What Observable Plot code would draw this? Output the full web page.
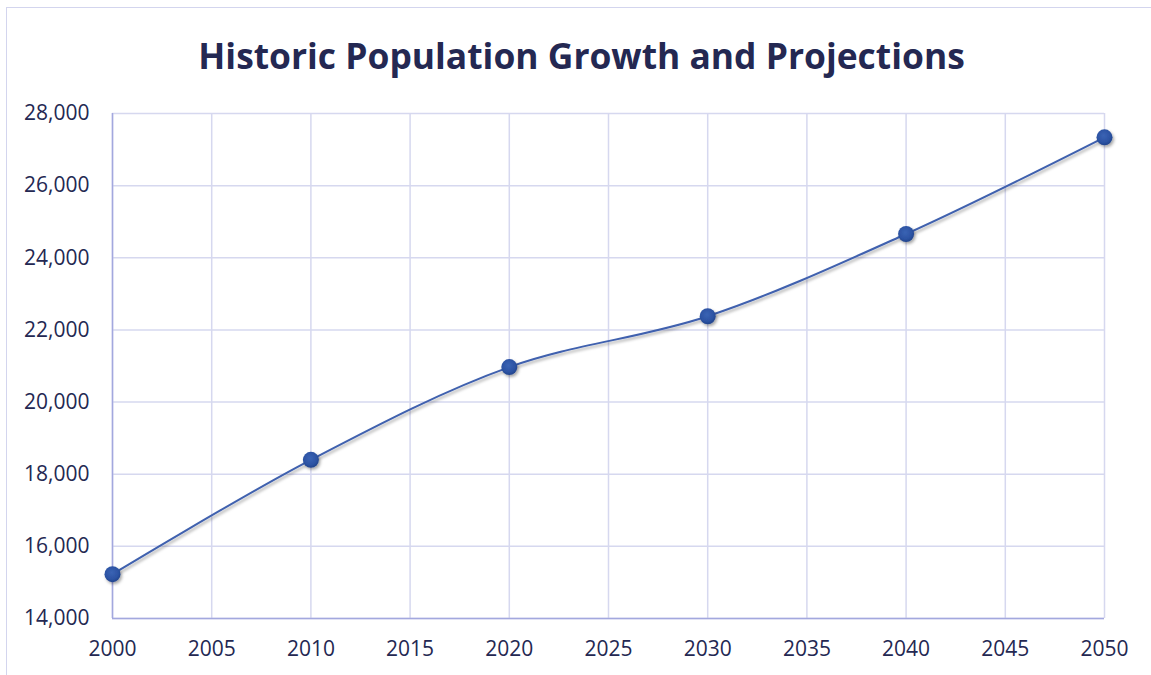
<!DOCTYPE html>
<html>
<head>
<meta charset="utf-8">
<script src="https://cdn.jsdelivr.net/npm/d3@7"></script>
<script src="https://cdn.jsdelivr.net/npm/@observablehq/plot@0.6"></script>
<style>
  html, body { margin: 0; padding: 0; background: #fff; overflow: hidden; }
  #wrap { position: relative; width: 1151px; height: 675px; overflow: hidden; font-family: "Open Sans", sans-serif; }
  #frame { position: absolute; left: 6px; top: 7px; width: 1160px; height: 700px; border: 1.5px solid #d3d5ee; box-sizing: border-box; pointer-events: none; }
  #title { height: 90px; box-sizing: border-box; padding-top: 37px; padding-left: 12px; text-align: center; font-size: 35.4px; line-height: 36px; font-weight: 700; color: #242852; }
  #chart svg { display: block; }
</style>
</head>
<body>
<div id="wrap">
  <div id="frame"></div>
  <div id="title">Historic Population Growth and Projections</div>
  <div id="chart"></div>
</div>
<script>
const years = [2000, 2010, 2020, 2030, 2040, 2050];
const population = [15230, 18400, 20970, 22380, 24660, 27340];
const xTicks = [2000, 2005, 2010, 2015, 2020, 2025, 2030, 2035, 2040, 2045, 2050];
const yTicks = [14000, 16000, 18000, 20000, 22000, 24000, 26000, 28000];

const data = years.map((y, i) => ({year: y, value: population[i]}));

const defs = () => {
  const ns = "http://www.w3.org/2000/svg";
  const d = document.createElementNS(ns, "defs");
  d.innerHTML = `
    <radialGradient id="dotGrad" cx="45%" cy="40%" r="60%">
      <stop offset="0%" stop-color="#3a63b4"/>
      <stop offset="70%" stop-color="#2c53a3"/>
      <stop offset="100%" stop-color="#22448c"/>
    </radialGradient>
    <filter id="shadow" x="-50%" y="-50%" width="200%" height="200%">
      <feDropShadow dx="1.5" dy="2" stdDeviation="1.6" flood-color="#000" flood-opacity="0.35"/>
    </filter>`;
  return d;
};

const fmt = d3.format(",");

const plot = Plot.plot({
  width: 1151,
  height: 585,
  marginLeft: 112,
  marginRight: 47,
  marginTop: 23,
  marginBottom: 57,
  style: { fontFamily: "'Open Sans', sans-serif", fontSize: "21px", color: "#242852", background: "transparent" },
  x: { domain: [2000, 2050], ticks: xTicks, tickFormat: d => String(d), label: null },
  y: { domain: [14000, 28000], ticks: yTicks, tickFormat: fmt, label: null },
  marks: [
    defs,
    Plot.gridX(xTicks, { stroke: "#d6d8ef", strokeOpacity: 1, strokeWidth: 1.5 }),
    Plot.gridY(yTicks, { stroke: "#d6d8ef", strokeOpacity: 1, strokeWidth: 1.5 }),
    Plot.ruleX([2000], { stroke: "#a3a8de", strokeWidth: 1.5 }),
    Plot.ruleY([14000], { stroke: "#a3a8de", strokeWidth: 1.5 }),
    Plot.axisX({ ticks: xTicks, tickSize: 0, tickPadding: 23, tickFormat: d => String(d), fontSize: 21, fill: "#242852" }),
    Plot.axisY({ ticks: yTicks, tickSize: 0, tickPadding: 23, tickFormat: fmt, fontSize: 21, fill: "#242852" }),
    Plot.line(data, { x: "year", y: "value", curve: "catmull-rom", stroke: "#3f61ae", strokeWidth: 2 }),
    Plot.dot(data, { x: "year", y: "value", r: 8, fill: "url(#dotGrad)", stroke: "none" })
  ]
});

document.getElementById("chart").appendChild(plot);
const svg = d3.select(plot);
svg.selectAll("g[aria-label='line'], g[aria-label='dot']").attr("filter", "url(#shadow)");
</script>
</body>
</html>
